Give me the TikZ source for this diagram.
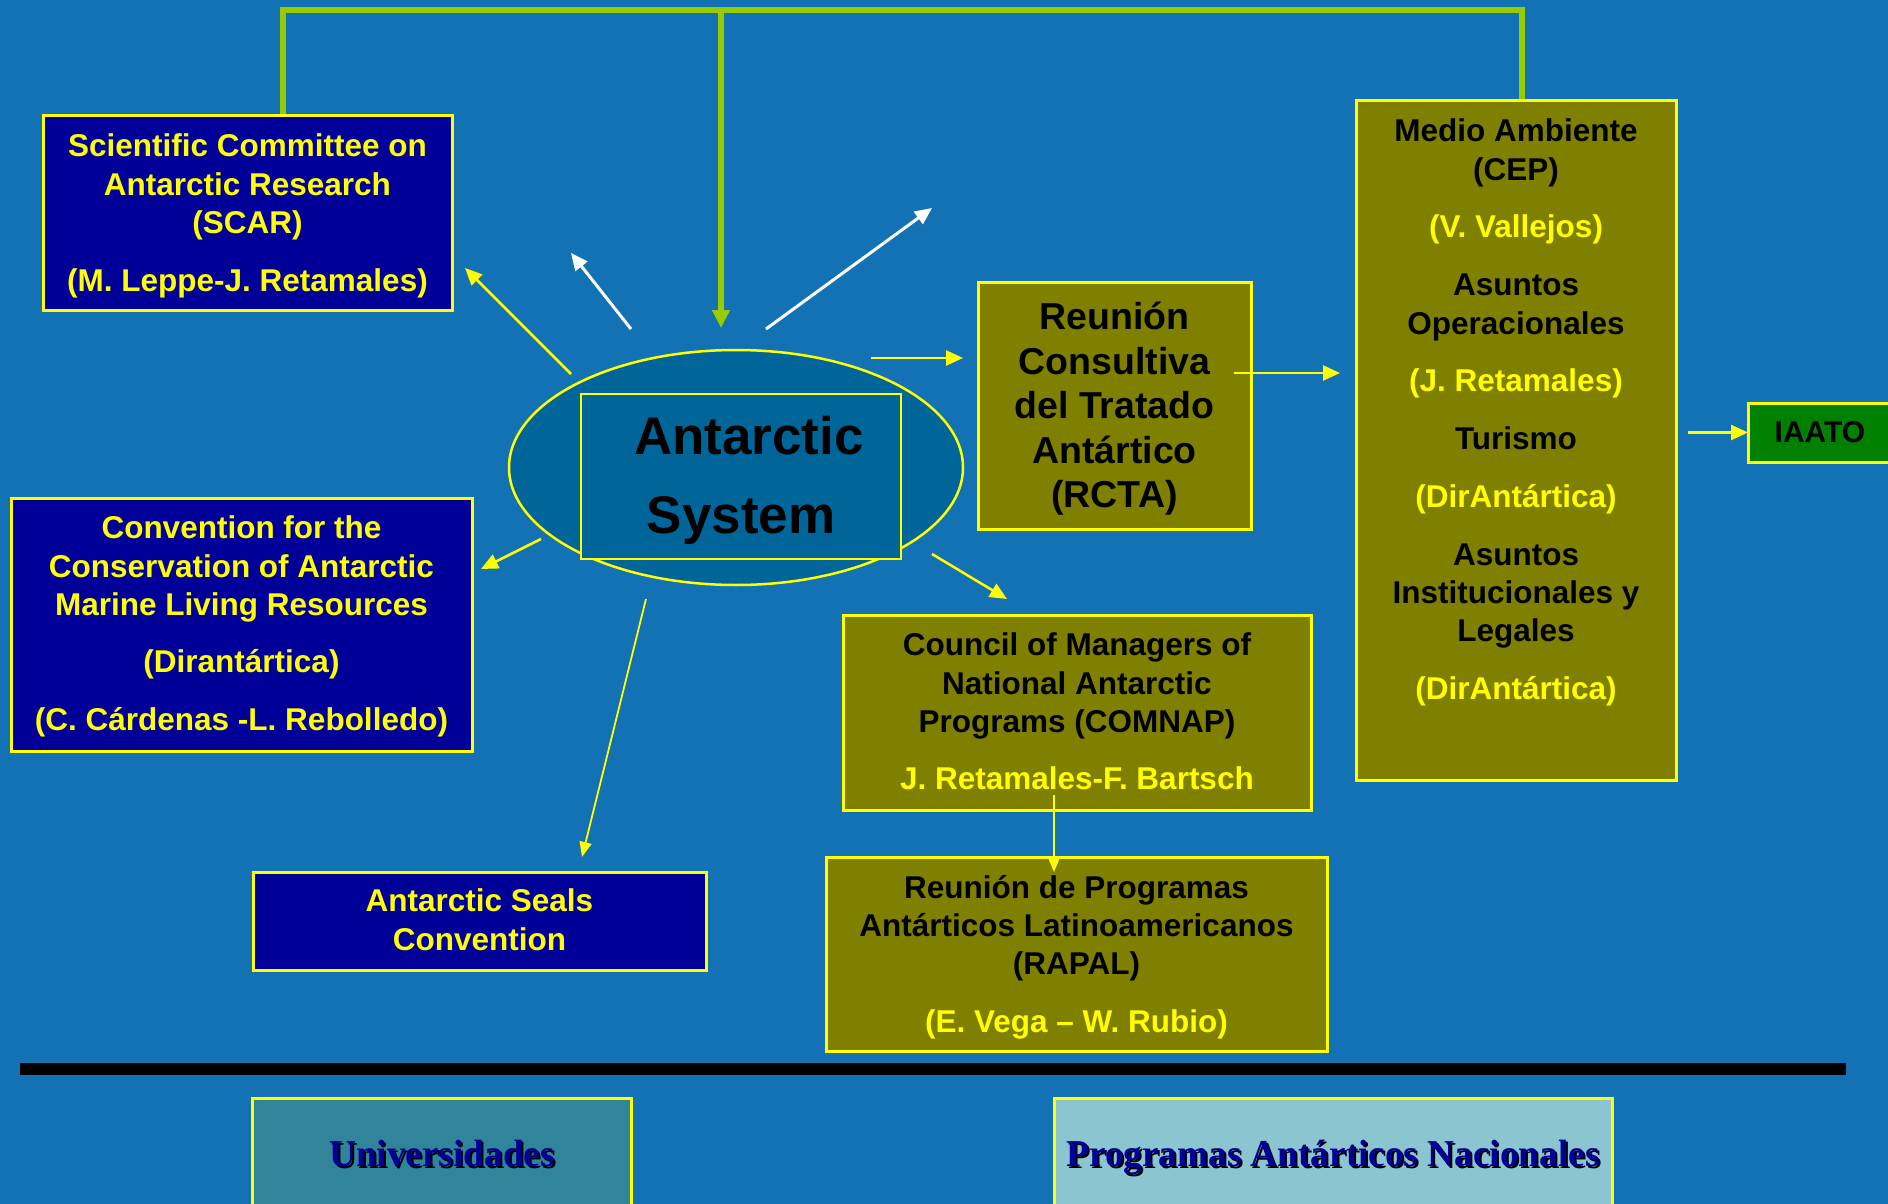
\documentclass[tikz,border=0pt]{standalone}
\usepackage{fontspec}
\setmainfont{Liberation Sans}
\newfontfamily\bottomfont{Liberation Serif}
\usetikzlibrary{arrows.meta,shapes.geometric}
\definecolor{bgblue}{RGB}{19,114,180}
\definecolor{ylw}{RGB}{255,255,0}
\definecolor{navybox}{RGB}{0,0,153}
\definecolor{olivebox}{RGB}{128,128,0}
\definecolor{ellfill}{RGB}{0,102,153}
\definecolor{iaatogreen}{RGB}{0,128,0}
\definecolor{gline}{RGB}{153,204,0}
\definecolor{unifill}{RGB}{49,133,155}
\definecolor{progfill}{RGB}{139,197,207}
\definecolor{bottomtext}{RGB}{0,0,153}
\tikzset{
  every node/.style={inner sep=0pt, outer sep=0pt},
  navyrect/.style={rectangle, draw=ylw, line width=3pt, fill=navybox},
  oliverect/.style={rectangle, draw=ylw, line width=3pt, fill=olivebox},
  txt/.style={align=center, anchor=north, font=\fontsize{31.5}{38.3}\selectfont\bfseries},
  bigtxt/.style={align=center, anchor=north, font=\fontsize{37.5}{44.5}\selectfont\bfseries},
  systxt/.style={align=center, anchor=north, font=\fontsize{53}{79}\selectfont\bfseries},
  bottomtxt/.style={anchor=base, font=\fontsize{38}{44}\bottomfont\bfseries},
  yarrow/.style={draw=ylw, line width=2.5pt, -{Triangle[length=17pt,width=15pt]}},
  ythin/.style={draw=ylw, line width=1.8pt, -{Triangle[length=15pt,width=12pt]}},
  warrow/.style={draw=white, line width=3pt, -{Triangle[length=17pt,width=15pt]}},
  garrow/.style={draw=gline, line width=6pt, -{Triangle[length=18pt,width=17pt]}},
  gline/.style={draw=gline, line width=6pt},
}
\begin{document}
\begin{tikzpicture}[x=1pt,y=-1pt]
\useasboundingbox (0,0) rectangle (1888,1204);
\fill[bgblue] (0,0) rectangle (1888,1204);

% ---- green top connector
\coordinate (g1) at (283,116);
\coordinate (g2) at (283,10);
\coordinate (g3) at (1522,10);
\coordinate (g4) at (1522,101);
\coordinate (gm) at (721,10);
\coordinate (gmEnd) at (721,328);
\draw[gline, line join=miter] (g1) -- (g2) -- (g3) -- (g4);

% ---- SCAR
\node[navyrect, minimum width=409pt, minimum height=194pt] (scar) at (247.5,213) {};
\node[txt, text=ylw] (scarT) at (247.5,134) {Scientific Committee on\\Antarctic Research\\(SCAR)\\[19.5pt](M. Leppe-J. Retamales)};

% ---- Convention
\node[navyrect, minimum width=461pt, minimum height=253pt] (ccamlr) at (241.5,624.5) {};
\node[txt, text=ylw] (ccamlrT) at (241.5,516) {Convention for the\\Conservation of Antarctic\\Marine Living Resources\\[19pt](Dirantártica)\\[19.5pt](C. Cárdenas -L. Rebolledo)};

% ---- Seals
\node[navyrect, minimum width=453pt, minimum height=98pt] (seals) at (479.5,921) {};
\node[txt, text=ylw] (sealsT) at (479.5,889) {Antarctic Seals\\Convention};

% ---- Antarctic System
\node[ellipse, draw=ylw, line width=2.5pt, fill=ellfill, minimum width=454pt, minimum height=235pt] (ell) at (736,467.5) {};
\node[rectangle, draw=ylw, line width=2.5pt, fill=ellfill, minimum width=320pt, minimum height=165pt] (sys) at (741,476.5) {};
\node[systxt, text=black] (sysT) at (741,416) {\hspace*{16pt}Antarctic\\System};

% ---- RCTA
\node[oliverect, minimum width=273pt, minimum height=247pt] (rcta) at (1114.5,405.5) {};
\node[bigtxt, text=black] (rctaT) at (1114.5,302) {Reunión\\Consultiva\\del Tratado\\Antártico\\(RCTA)};

% ---- Medio Ambiente column
\node[oliverect, minimum width=320pt, minimum height=679pt] (medio) at (1516,440.5) {};
\node[txt, text=black] (medioT) at (1516,119) {Medio Ambiente\\(CEP)\\[19.5pt]\textcolor{ylw}{(V. Vallejos)}\\[19.5pt]Asuntos\\Operacionales\\[19.5pt]\textcolor{ylw}{(J. Retamales)}\\[19.5pt]Turismo\\[19.5pt]\textcolor{ylw}{(DirAntártica)}\\[19.5pt]Asuntos\\Institucionales y\\Legales\\[19.5pt]\textcolor{ylw}{(DirAntártica)}};

% ---- IAATO
\node[rectangle, draw=ylw, line width=3pt, fill=iaatogreen, minimum width=144pt, minimum height=59pt, font=\fontsize{30}{36}\selectfont\bfseries, text=black] (iaato) at (1820,432.5) {IAATO};

% ---- COMNAP
\node[oliverect, minimum width=468pt, minimum height=195pt] (comnap) at (1077,712.5) {};
\node[txt, text=black] (comnapT) at (1077,633) {Council of Managers of\\National Antarctic\\Programs (COMNAP)\\[19pt]\textcolor{ylw}{J. Retamales-F. Bartsch}};

% ---- RAPAL
\node[oliverect, minimum width=501pt, minimum height=194pt] (rapal) at (1076.5,954) {};
\node[txt, text=black] (rapalT) at (1076.5,875) {Reunión de Programas\\Antárticos Latinoamericanos\\(RAPAL)\\[19pt]\textcolor{ylw}{(E. Vega – W. Rubio)}};

% ---- separator bar
\fill[black] (20,1063) rectangle (1846,1075);

% ---- bottom boxes
\node[rectangle, draw=ylw, line width=3pt, fill=unifill, minimum width=379pt, minimum height=140pt, anchor=north] (uni) at (441.5,1098) {};
\node[rectangle, draw=ylw, line width=3pt, fill=progfill, minimum width=558pt, minimum height=140pt, anchor=north] (prog) at (1333,1098) {};
\node[bottomtxt, text=black, xscale=0.98] (uniS) at (444,1168) {Universidades};
\node[bottomtxt, text=bottomtext, xscale=0.98] (uniT) at (442,1166) {Universidades};
\node[bottomtxt, text=black, xscale=0.98] (progS) at (1335,1168) {Programas Antárticos Nacionales};
\node[bottomtxt, text=bottomtext, xscale=0.98] (progT) at (1333,1166) {Programas Antárticos Nacionales};

% ---- arrow end points
\coordinate (a1s) at (571,374);  \coordinate (a1e) at (465,268);
\coordinate (a2s) at (631,329);  \coordinate (a2e) at (571,253);
\coordinate (a4s) at (766,329);  \coordinate (a4e) at (932,208);
\coordinate (a5s) at (871,358);  \coordinate (a5e) at (963,358);
\coordinate (a6s) at (1234,373); \coordinate (a6e) at (1340,373);
\coordinate (a7s) at (1688,432.5);
\coordinate (a8s) at (541,539);  \coordinate (a8e) at (481,569);
\coordinate (a9s) at (646,599);  \coordinate (a9e) at (582,857);
\coordinate (a10s) at (932,554); \coordinate (a10e) at (1007,599);
\coordinate (a11s) at (1054,795); \coordinate (a11e) at (1054,872);

% ---- connectors
\draw[garrow] (gm) -- (gmEnd);
\draw[yarrow] (a1s) -- (a1e);
\draw[warrow] (a2s) -- (a2e);
\draw[warrow] (a4s) -- (a4e);
\draw[yarrow] (a5s) -- (a5e);
\draw[yarrow] (a6s) -- (a6e);
\draw[yarrow] (a7s) -- (iaato.west);
\draw[yarrow] (a8s) -- (a8e);
\draw[ythin] (a9s) -- (a9e);
\draw[yarrow] (a10s) -- (a10e);
\draw[ythin] (a11s) -- (a11e);
\end{tikzpicture}
\end{document}
